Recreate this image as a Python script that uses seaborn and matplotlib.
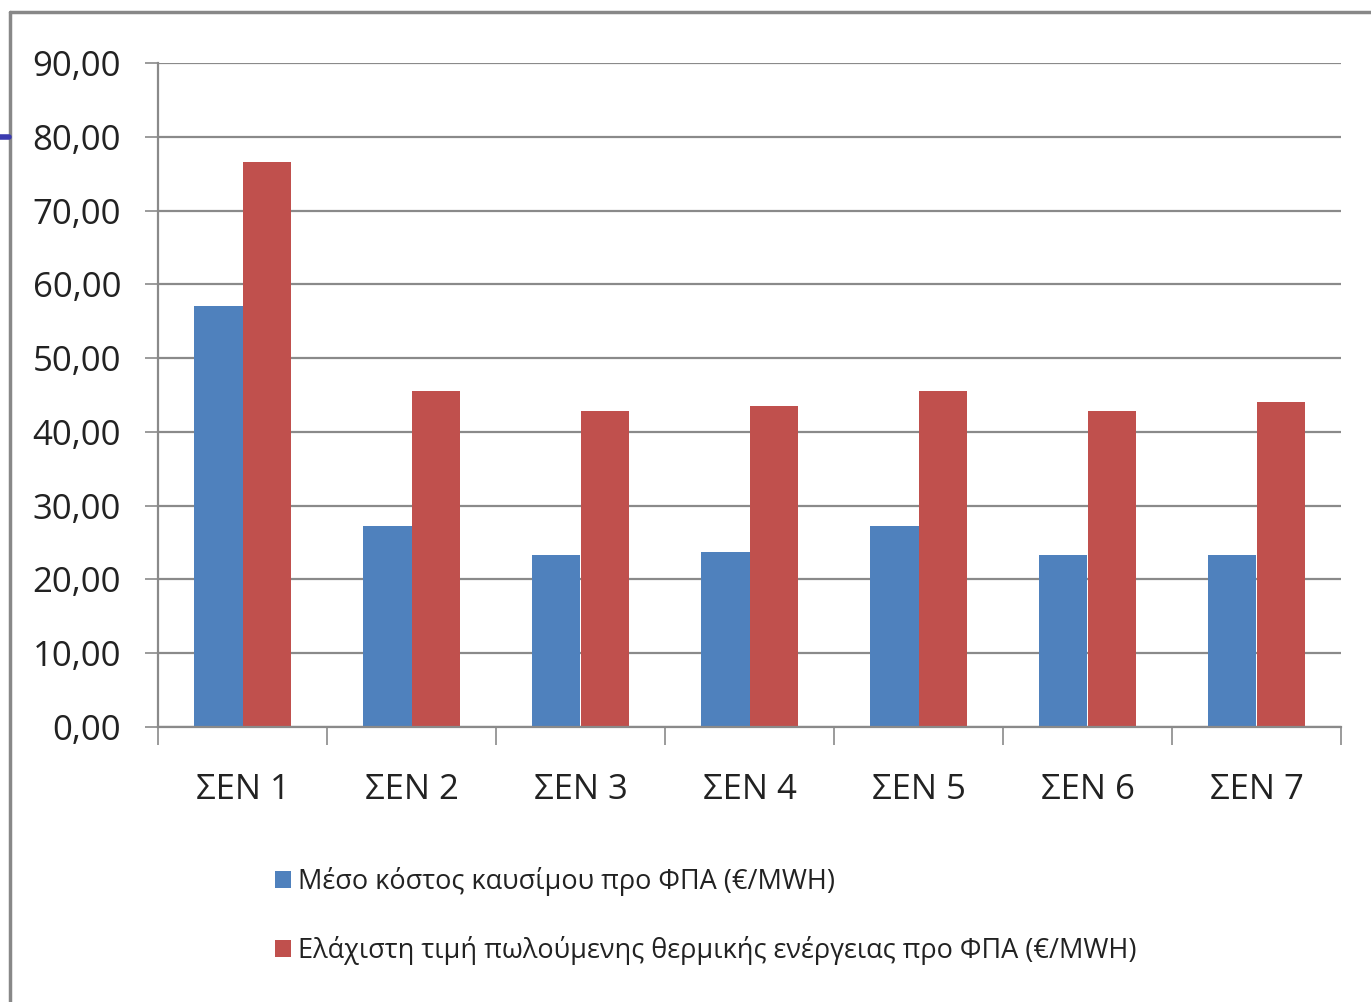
import matplotlib
matplotlib.use("Agg")
import matplotlib.pyplot as plt
from matplotlib import font_manager
from matplotlib.lines import Line2D
from matplotlib.ticker import FixedLocator, FuncFormatter
import pandas as pd
import seaborn as sns

# Scenario labels and the two cost series (€/MWH)
categories = ["ΣΕΝ 1", "ΣΕΝ 2", "ΣΕΝ 3", "ΣΕΝ 4", "ΣΕΝ 5", "ΣΕΝ 6", "ΣΕΝ 7"]
fuel_cost = [57.0, 27.2, 23.3, 23.7, 27.2, 23.3, 23.3]
min_heat_price = [76.6, 45.5, 42.8, 43.5, 45.5, 42.8, 44.0]
series_names = [
    "Μέσο κόστος καυσίμου προ ΦΠΑ (€/MWH)",
    "Ελάχιστη τιμή πωλούμενης θερμικής ενέργειας προ ΦΠΑ (€/MWH)",
]
y_ticks = [0, 10, 20, 30, 40, 50, 60, 70, 80, 90]

df = pd.DataFrame({
    "cat": categories * 2,
    "value": fuel_cost + min_heat_price,
    "series": [series_names[0]] * len(categories) + [series_names[1]] * len(categories),
})

sns.set_theme(style="white")
available = {f.name for f in font_manager.fontManager.ttflist}
family = next((f for f in ["Liberation Sans Narrow", "Open Sans", "Liberation Sans"] if f in available), "DejaVu Sans")
plt.rcParams["font.family"] = [family, "DejaVu Sans"]

W, H = 1371, 1002
fig = plt.figure(figsize=(W / 100, H / 100), dpi=100)
ax = fig.add_axes([158 / W, 1 - 727 / H, (1341 - 158) / W, (727 - 63) / H])

grid_c = "#8a8a8a"
sns.barplot(data=df, x="cat", y="value", hue="series", ax=ax,
            palette=["#4F81BD", "#C0504D"], width=0.575, saturation=1,
            gap=0, linewidth=0, legend=True)

ax.set_xlim(-0.5, len(categories) - 0.5)
ax.set_ylim(0, 90)
ax.set_xlabel("")
ax.set_ylabel("")

ax.yaxis.set_major_locator(FixedLocator(y_ticks))
ax.yaxis.set_major_formatter(FuncFormatter(lambda v, p: f"{v:.2f}".replace(".", ",")))
ax.grid(axis="y", color=grid_c, linewidth=1.6)
ax.set_axisbelow(True)

for s in ["top", "right"]:
    ax.spines[s].set_visible(False)
for s in ["left", "bottom"]:
    ax.spines[s].set_color(grid_c)
    ax.spines[s].set_linewidth(1.6)

ax.tick_params(axis="y", which="major", length=9.5, width=1.2, color=grid_c,
               labelsize=25, pad=17, left=True, labelcolor="#222222")
ax.tick_params(axis="x", which="major", length=0, labelsize=25, pad=33,
               labelcolor="#222222")
ax.xaxis.set_minor_locator(FixedLocator([i - 0.5 for i in range(len(categories) + 1)]))
ax.tick_params(axis="x", which="minor", length=13, width=1.2, color=grid_c, bottom=True)

handles, labels = ax.get_legend_handles_labels()
ax.get_legend().remove()
fig.legend(handles, labels, loc="upper left", bbox_to_anchor=(275 / W, 1 - 867 / H),
           frameon=False, fontsize=19.5, handlelength=0.6, handleheight=0.6,
           handletextpad=0.24, labelspacing=1.48, borderpad=0, borderaxespad=0,
           labelcolor="#222222")

# outer frame lines and the small marker on the left edge
fig.add_artist(Line2D([10 / W, 1], [1 - 12 / H, 1 - 12 / H], color="#888888", linewidth=2.5))
fig.add_artist(Line2D([10 / W, 10 / W], [0, 1 - 12 / H], color="#888888", linewidth=2.5))
fig.add_artist(Line2D([0, 9 / W], [1 - 137 / H, 1 - 137 / H], color="#3b3bb0", linewidth=4))

fig.savefig("out.png", dpi=100)
